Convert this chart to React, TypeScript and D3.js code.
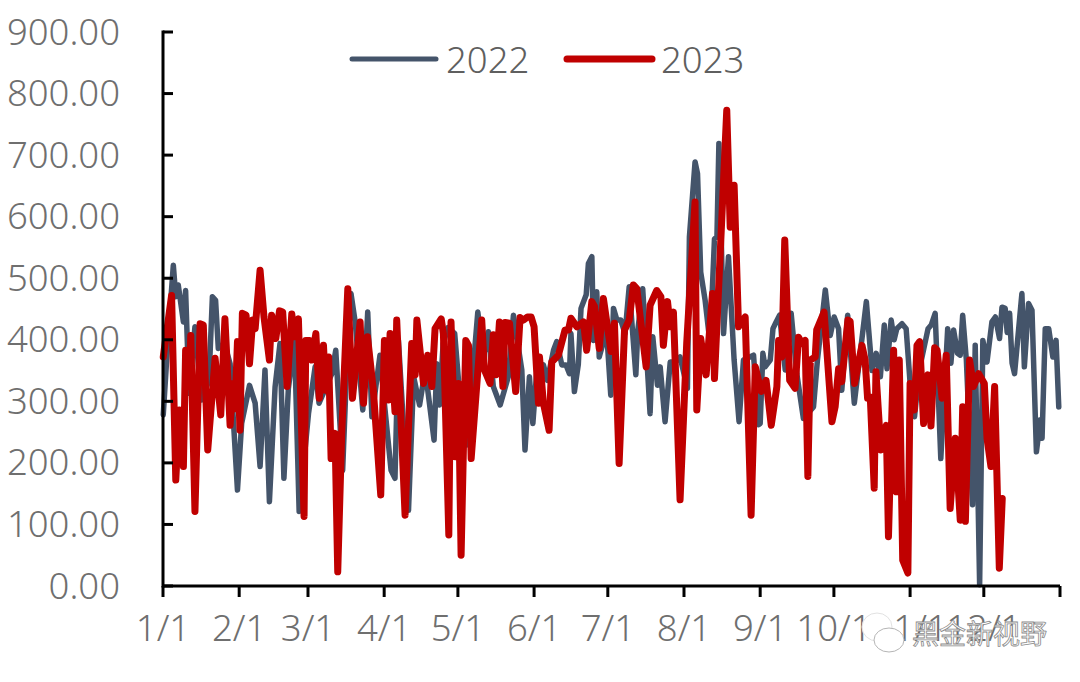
import React from "react";
import * as d3 from "d3";

const yTicks = [0, 100, 200, 300, 400, 500, 600, 700, 800, 900];
const monthDays = [0, 31, 59, 90, 120, 151, 181, 212, 243, 273, 304, 334, 365];
const monthLabels = ["1/1", "2/1", "3/1", "4/1", "5/1", "6/1", "7/1", "8/1", "9/1", "10/1", "11/1", "12/1", ""];

const days2022 = [0.1,2,4.2,5.2,6.2,8.3,9.2,10.6,13,15.7,18.7,20.1,21.4,22.5,25,27.3,30.3,32,35.2,37.5,39.5,41.5,43.3,45.6,47.6,49.2,51,53.5,55.4,59.2,61.9,63.5,68.7,70.3,73.1,75,76.5,78.2,81.3,83.3,85,88.3,90,92.8,94.4,95.8,99.9,102,104.4,106.7,110.3,111.4,112.5,114,116,118.7,120.9,123.6,128.1,130.4,132.4,134.4,137.2,140.5,142.6,146,147.3,149.1,150.5,152,154.8,156.4,158.9,160.2,162.3,164,165.4,166,167.4,169,170.1,172.2,173.1,174.5,175.2,176.5,177.5,180.5,182.2,183.3,184.7,186.3,188,189.7,192.4,193.2,195.2,198.2,199.3,201.2,202.3,204.3,206.4,208.4,210.4,213.4,214.2,216.5,217.5,218.8,220.6,222.6,224.4,225.4,226.2,228.1,230.1,232.4,234.4,236.2,240.3,242.3,243,244.1,245,247.1,248.2,249.5,250.9,253.2,255.6,257.9,260.6,264.7,266.3,269.5,271.5,273.1,274.9,276.2,278.6,281.3,286.2,288.5,290.2,291.9,293.5,294.6,296.3,297.5,298.6,300.7,302.4,304,305.8,307.7,311.3,312.6,314.2,316.5,319.3,320.6,321.7,323.3,324.4,325.4,326.9,329.4,330.5,332.3,333.6,335.3,337.3,338.7,340.4,341.4,342.7,343.5,344.5,345.5,346.5,349.5,350.5,352.2,353.6,355.4,357,357.7,359,360.4,362.1,363.4,364.5];
const values2022 = [278,400,521,470,489,429,480,313,421,302,334,470,464,386,394,361,156,264,326,297,194,351,137,323,394,175,320,399,121,280,356,297,345,383,188,380,475,429,286,445,275,375,300,188,175,399,123,340,294,351,237,361,294,394,420,410,302,229,445,372,413,324,294,340,440,351,221,340,264,345,359,334,383,397,359,359,345,410,316,360,451,473,524,535,399,478,372,415,310,451,432,432,410,486,343,415,483,280,405,326,356,267,364,364,372,321,567,689,670,510,464,394,564,567,719,410,535,367,267,367,375,262,264,378,356,367,418,429,440,351,443,345,272,291,367,481,407,437,418,318,440,297,462,350,378,340,424,353,432,400,418,426,418,330,275,350,418,424,443,207,418,362,416,378,375,440,367,132,391,2,399,364,429,437,402,453,451,412,443,362,345,475,356,459,448,218,270,240,418,418,372,399,291];

const days2023 = [0.1,3.5,5.2,6.65,8.3,9.2,10.6,11.3,13,15.1,16.4,18.2,21.2,23.5,25.2,27.3,28.4,29.3,30.3,31.3,32.3,33.8,35.2,36.5,37.5,39.5,41.1,43.3,44.2,45.9,47.4,48.7,50.5,52.4,53.5,55.1,57.4,58.1,59.6,60.5,62.2,63.6,65.3,66.2,67.4,68.4,70,71.1,72.7,75.2,77.1,80.2,81.6,83.2,85.6,88.6,90.1,91.7,92.4,94.4,95.1,98.5,101.2,102.6,103.3,106,107.7,109.4,110.7,113.2,114.1,116.3,117.2,118.9,120.2,121.3,123.2,124.3,125.4,129.7,130.8,133.1,134.4,135.5,136.9,138.3,139.2,141,143.5,145.3,146.7,148.3,149.8,151,152.8,153.2,154.8,157.1,158.2,160.9,163.6,165,166,168.4,171.1,172.4,174.5,175.6,177.5,179.2,182.3,183.7,185.6,187.8,189.7,191.4,192.8,196.6,198.2,200.9,202.6,203.6,205.3,206.4,207.7,210.4,213.1,216.5,217.2,218.8,221,223.6,224.4,229.4,230.8,232.4,234.2,236.9,239.3,241,243.4,245.4,247.5,249.8,250.5,251.8,253,255,257.2,258.6,260,261.3,262.4,263.4,265.4,266,269,272.2,273.5,274.9,276.2,278.7,279.6,281.4,284.4,285.7,286.7,287.8,289.4,290.1,292.1,294.3,295.2,297.3,298.4,299.6,301,303.1,304,305.7,306.8,307.9,309.5,311.3,312.5,314,315,317,318.7,320.3,322.4,324.4,325.4,326.5,328.2,329.8,331.9,334.2,335.3,336.9,338.4,340.3,341.5];
const values2023 = [372,472,172,286,194,383,324,407,121,426,424,221,370,278,434,261,329,288,397,253,443,440,361,432,418,513,437,367,440,402,447,445,324,442,405,434,113,399,399,367,410,305,391,318,372,207,248,23,245,483,305,429,297,405,318,148,399,302,410,283,432,115,394,343,432,329,375,324,418,434,410,83,429,210,329,50,399,391,207,432,351,329,408,343,429,324,428,427,316,436,432,437,437,421,297,372,297,253,364,375,416,416,435,421,429,383,462,454,386,467,381,427,199,416,432,489,483,356,456,480,470,391,462,421,445,140,394,624,286,402,343,475,337,773,583,651,421,437,115,356,316,334,261,324,399,372,562,334,321,404,394,399,178,367,372,416,445,267,291,353,332,432,430,329,391,367,305,307,159,348,221,261,80,383,153,367,42,21,329,286,391,397,264,343,260,387,383,305,375,126,240,107,291,105,367,324,345,329,240,194,324,29,142];

const W = 1080, H = 682;
const x = d3.scaleLinear().domain([0, 365]).range([163, 1060]);
const y = d3.scaleLinear().domain([0, 900]).range([586, 32]);
const fmt = d3.format(".2f");
const FONT = "'Noto Sans', sans-serif";
const CJK = "'Noto Sans CJK SC', sans-serif";
const GREY = "#44546a";
const RED = "#c00000";
const AXIS = "#000000";
const LABEL = "#6f6f6f";
const FS = 36.5;

const lineGen = (ds: number[], vs: number[]) =>
  d3.line<number>().x((d) => x(d)).y((_, i) => y(vs[i]))(ds) as string;

export default function App() {
  return (
    <svg width={W} height={H} viewBox={`0 0 ${W} ${H}`}
      style={{ position: "absolute", left: 0, top: 0, background: "#fff" }}>
      <path d={lineGen(days2022, values2022)} fill="none" stroke={GREY} strokeWidth={5.5} strokeLinejoin="round" strokeLinecap="round" />
      <path d={lineGen(days2023, values2023)} fill="none" stroke={RED} strokeWidth={7} strokeLinejoin="round" strokeLinecap="round" />

      <line x1={x(0)} x2={x(0)} y1={y(900) - 1.5} y2={y(0) + 1.5} stroke={AXIS} strokeWidth={3} />
      <line x1={x(0)} x2={x(365)} y1={y(0)} y2={y(0)} stroke={AXIS} strokeWidth={3} />
      {yTicks.map((t) => (
        <g key={t}>
          <line x1={x(0)} x2={x(0) + 10} y1={y(t)} y2={y(t)} stroke={AXIS} strokeWidth={3} />
          <text x={120} y={y(t) + 12.5} textAnchor="end" fontFamily={FONT} fontWeight={300} fontSize={FS} fill={LABEL}>{fmt(t)}</text>
        </g>
      ))}
      {monthDays.map((d, i) => (
        <g key={d}>
          <line x1={x(d)} x2={x(d)} y1={y(0)} y2={y(0) + 11} stroke={AXIS} strokeWidth={3} />
          <text x={x(d)} y={641} textAnchor="middle" fontFamily={FONT} fontWeight={300} fontSize={FS} fill={LABEL}>{monthLabels[i]}</text>
        </g>
      ))}

      <line x1={352} x2={436} y1={59} y2={59} stroke={GREY} strokeWidth={5} strokeLinecap="round" />
      <text x={446} y={73} fontFamily={FONT} fontWeight={300} fontSize={FS} fill="#5f5f5f">2022</text>
      <line x1={567} x2={652} y1={59} y2={59} stroke={RED} strokeWidth={7} strokeLinecap="round" />
      <text x={661} y={73} fontFamily={FONT} fontWeight={300} fontSize={FS} fill="#5f5f5f">2023</text>

      <g>
        <ellipse cx={877} cy={627} rx={15} ry={14} fill="#fff" stroke="#e2e2e2" strokeWidth={1} />
        <ellipse cx={889} cy={640} rx={15} ry={12} fill="#fff" stroke="#b5b5b5" strokeWidth={1} />
        <text x={912} y={644} fontFamily={CJK} fontSize={27} fill="#fff" stroke="#8a8a8a" strokeWidth={0.8}>黑金新视野</text>
      </g>
    </svg>
  );
}
